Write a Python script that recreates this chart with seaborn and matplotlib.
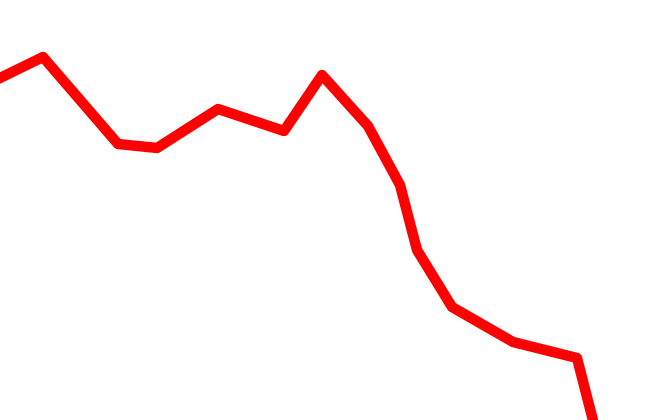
import matplotlib
matplotlib.use("Agg")
import matplotlib.pyplot as plt
import seaborn as sns
import pandas as pd

x_vals = [0, 43, 118, 157, 218, 284, 322, 368, 400, 417, 452, 513, 577, 598]
y_vals = [342, 363, 276, 272, 311, 289, 345, 294, 235, 170, 113, 78, 62, -20]

df = pd.DataFrame({"x": x_vals, "y": y_vals})

fig = plt.figure(figsize=(6.64, 4.2), dpi=100)
ax = fig.add_axes([0, 0, 1, 1])
sns.lineplot(data=df, x="x", y="y", ax=ax, color="#ff0000", linewidth=7.5,
             sort=False, estimator=None)
ax.lines[0].set_solid_joinstyle("round")
ax.set_xlim(0, 664)
ax.set_ylim(0, 420)
ax.axis("off")
fig.savefig("out.png", dpi=100, facecolor="white")
